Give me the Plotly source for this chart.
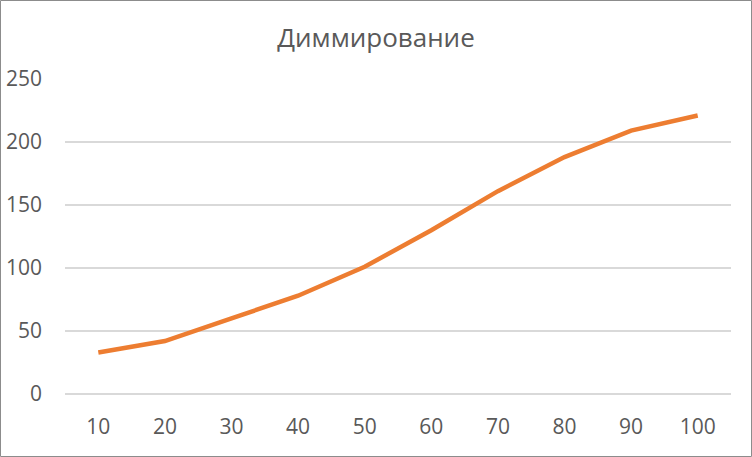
import plotly.graph_objects as go

# -- chart data
levels = ["10", "20", "30", "40", "50", "60", "70", "80", "90", "100"]
values = [33, 42, 60, 78, 101, 130, 161, 188, 209, 221]
y_ticks = [0, 50, 100, 150, 200, 250]

W, H = 752, 457
ml, mr, mt, mb = 65, 21, 79, 63
pw, ph = W - ml - mr, H - mt - mb

fig = go.Figure()
fig.add_trace(go.Scatter(
    x=levels, y=values,
    mode="lines",
    line=dict(color="#ED7D31", width=4.5),
    hoverinfo="x+y",
))

fig.update_layout(
    width=W, height=H,
    margin=dict(l=ml, r=mr, t=mt, b=mb),
    paper_bgcolor="white", plot_bgcolor="white",
    showlegend=False,
    font=dict(family="Open Sans", color="#595959", size=21),
    title=dict(text="Диммирование", x=0.5, xanchor="center",
               y=1 - 38 / H, yanchor="middle",
               font=dict(family="Open Sans", size=26, color="#595959")),
)
fig.update_xaxes(
    type="category", range=[-0.5, 9.5],
    showgrid=False, showline=False, ticks="",
    ticklabelstandoff=18, automargin=False,
)
fig.update_yaxes(
    range=[0, 250], tickvals=y_ticks,
    showgrid=True, gridcolor="#D9D9D9", gridwidth=2,
    zeroline=True, zerolinecolor="#D9D9D9", zerolinewidth=2,
    showline=False, ticks="",
    ticklabelstandoff=22, automargin=False,
)

# -- outer chart border
fig.add_shape(
    type="rect", xref="paper", yref="paper",
    x0=-(ml - 0.5) / pw, x1=1 + (mr - 0.5) / pw,
    y0=-(mb - 0.5) / ph, y1=1 + (mt - 0.5) / ph,
    line=dict(color="#8C8C8C", width=1), layer="below",
)

# drop the default body margin so the chart sits at the page corner
fig.write_html("out.html", config={"displayModeBar": False},
               post_script="document.body.style.margin='0';")
